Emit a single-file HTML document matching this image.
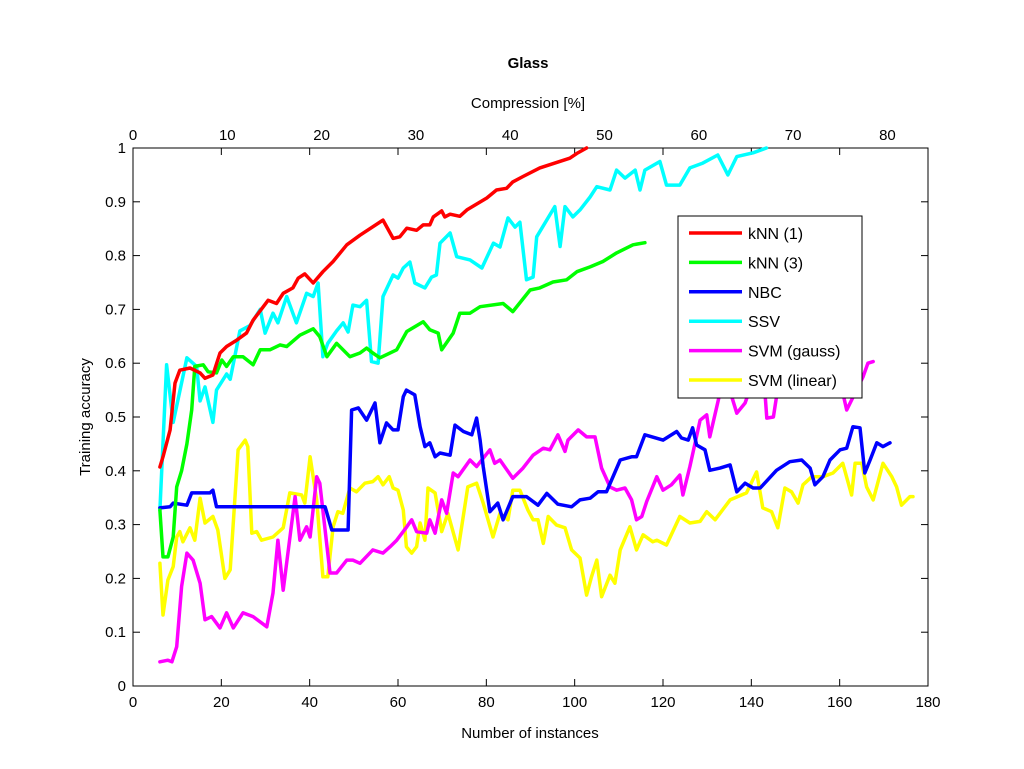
<!DOCTYPE html>
<html><head><meta charset="utf-8">
<style>
html,body{margin:0;padding:0;background:#fff;}
svg{display:block;font-family:"Liberation Sans",sans-serif;}
</style></head>
<body>
<svg id="chart" width="1024" height="769" viewBox="0 0 1024 769">
<rect x="0" y="0" width="1024" height="769" fill="#fff"/>
<text x="528" y="68" text-anchor="middle" font-size="15" font-weight="bold">Glass</text>
<text x="528" y="108" text-anchor="middle" font-size="15">Compression [%]</text>
<text x="530" y="738" text-anchor="middle" font-size="15">Number of instances</text>
<text x="90" y="417" text-anchor="middle" font-size="15" transform="rotate(-90 90 417)">Training accuracy</text>
<g id="axes"></g>
<g id="series"></g>
<g id="legend"></g>
</svg>
<script>
const xTicks=[0,20,40,60,80,100,120,140,160,180];
const yTicks=[0,0.1,0.2,0.3,0.4,0.5,0.6,0.7,0.8,0.9,1];
const yTickLabels=["0","0.1","0.2","0.3","0.4","0.5","0.6","0.7","0.8","0.9","1"];
const topTicks=[0,10,20,30,40,50,60,70,80];
const seriesNames=["kNN (1)","kNN (3)","NBC","SSV","SVM (gauss)","SVM (linear)"];
const seriesColors=["#ff0000","#00ff00","#0000ff","#00ffff","#ff00ff","#ffff00"];
const knn1=[[6.1,.407],[6.8,.426],[8.4,.476],[9.5,.563],[10.6,.587],[12.9,.591],[15.2,.582],[16.3,.572],[18.1,.578],[19.7,.619],[21.2,.631],[23.5,.643],[25.7,.656],[27.2,.68],[29.5,.705],[30.6,.717],[32.5,.711],[34,.73],[36.2,.74],[37.4,.758],[38.9,.766],[40.8,.749],[43,.77],[45.3,.789],[48.4,.82],[51.4,.838],[56.6,.866],[58.9,.832],[60.4,.835],[62,.851],[64.2,.847],[65.7,.857],[67.2,.857],[68,.872],[69.9,.883],[70.6,.872],[71.8,.877],[74,.873],[75.6,.885],[80.1,.907],[82.3,.922],[84.6,.925],[86,.937],[88.3,.947],[92.1,.963],[98.9,.981],[100.5,.99],[102.7,1.0]];
const knn3=[[6.1,.327],[6.8,.24],[7.9,.24],[9.1,.277],[9.9,.37],[11,.40],[12.2,.45],[13.3,.513],[14,.594],[15.9,.597],[17,.584],[18.9,.582],[20.1,.606],[21.2,.594],[22.7,.612],[24.9,.612],[27.2,.597],[28.8,.625],[31,.625],[33.3,.634],[34.8,.631],[37.8,.652],[40.8,.664],[42.3,.649],[43.9,.612],[46.1,.637],[49.1,.612],[51.4,.619],[52.9,.628],[54.3,.619],[55.9,.61],[59.7,.625],[62,.659],[65.7,.677],[67.2,.662],[69.1,.656],[69.9,.625],[72.5,.656],[74,.693],[76.3,.693],[78.6,.705],[83.8,.711],[86,.696],[89.9,.736],[92.1,.74],[95.1,.751],[98.2,.755],[100.5,.77],[103.5,.779],[106.4,.789],[109.5,.805],[113.2,.82],[115.9,.824]];
const nbc=[[6.1,.331],[8.4,.333],[9.1,.34],[12.2,.336],[13.3,.359],[17.4,.359],[18.1,.364],[18.9,.333],[43.5,.333],[45,.29],[48.7,.29],[49.5,.513],[51,.517],[52.9,.494],[54.8,.526],[55.9,.452],[57.4,.489],[58.9,.476],[60,.476],[61.2,.538],[61.9,.55],[63.8,.541],[65,.482],[66.1,.445],[67.2,.452],[68.4,.426],[69.5,.433],[71.8,.429],[72.9,.485],[74.8,.473],[76.7,.467],[77.8,.498],[78.6,.457],[79.3,.408],[80.8,.324],[82.6,.34],[83.8,.309],[86,.352],[89.1,.352],[91.7,.336],[93.7,.358],[96.2,.338],[99.3,.333],[101.2,.346],[103.5,.349],[105.3,.361],[107.2,.361],[110.3,.42],[112.9,.426],[114,.426],[115.9,.467],[120,.457],[123.1,.473],[124.2,.461],[125.7,.457],[126.7,.48],[127.6,.448],[129.5,.439],[130.6,.401],[132.9,.405],[135.2,.411],[136.7,.361],[138.6,.377],[140.4,.368],[142,.368],[145.7,.401],[148.7,.417],[151.4,.42],[153.3,.405],[154.4,.374],[156.2,.389],[157.8,.42],[160.1,.439],[161.6,.442],[163,.482],[164.6,.48],[165.7,.396],[166.9,.42],[168.4,.452],[169.8,.445],[171.4,.452]];
const ssv=[[6.1,.327],[7.6,.597],[9.1,.49],[12.2,.61],[14.4,.594],[15.2,.53],[16.3,.556],[18.1,.49],[18.9,.55],[21.2,.58],[22,.57],[24.2,.66],[26.5,.67],[28.8,.70],[29.9,.656],[31.7,.693],[32.8,.675],[34.8,.724],[37,.675],[39.3,.73],[40.8,.724],[41.9,.749],[43,.612],[44.1,.637],[46.1,.66],[47.6,.675],[48.7,.658],[49.8,.708],[51.4,.705],[52.9,.717],[54,.603],[55.5,.60],[56.6,.724],[58.9,.764],[60,.758],[61.2,.777],[62.7,.788],[63.8,.749],[66.1,.74],[67.6,.76],[68.7,.764],[69.5,.823],[71.8,.842],[73.3,.798],[76.3,.792],[79,.777],[81.6,.823],[83.1,.816],[84.9,.87],[86.5,.853],[87.6,.862],[89.1,.755],[90.6,.76],[91.4,.835],[95.5,.891],[96.7,.817],[97.8,.891],[99.6,.872],[101.2,.885],[103.5,.909],[105,.928],[108,.922],[109.5,.959],[111.4,.944],[113.7,.959],[114.8,.922],[115.9,.959],[119.3,.975],[120.8,.931],[123.8,.931],[126.1,.963],[129,.972],[132.4,.987],[134.7,.95],[136.7,.984],[140.4,.991],[143.4,1.0]];
const svmGauss=[[6.1,.045],[7.9,.048],[8.8,.045],[9.9,.073],[11,.185],[12.2,.247],[13.6,.234],[15.2,.191],[16.3,.123],[17.8,.129],[19.7,.108],[21.2,.136],[22.7,.108],[24.9,.136],[27.2,.129],[30.3,.11],[31.7,.173],[32.8,.271],[34,.178],[36.7,.352],[37.8,.271],[39.3,.296],[40.1,.277],[41.6,.389],[42.3,.377],[44.6,.21],[46.1,.21],[48.4,.234],[49.8,.234],[51.4,.228],[54.3,.253],[56.6,.247],[58.2,.259],[59.7,.271],[62,.296],[63.1,.309],[64.2,.287],[66.5,.284],[67.2,.309],[68.4,.284],[69.9,.346],[71,.321],[72.5,.396],[73.6,.389],[76.3,.42],[77.8,.408],[80.8,.439],[81.9,.414],[83.1,.42],[86,.386],[88.3,.405],[90.6,.429],[92.9,.442],[94.4,.439],[96.2,.467],[97.8,.436],[98.5,.457],[100.8,.476],[102.7,.463],[104.6,.463],[106.1,.405],[108,.37],[109.5,.364],[111.4,.368],[112.9,.346],[114,.309],[115.2,.315],[116.3,.343],[118.6,.389],[120,.364],[121.9,.374],[123.8,.392],[124.5,.355],[126.1,.408],[128.4,.494],[129.9,.504],[130.6,.463],[132.9,.545],[134.4,.569],[136.7,.507],[138.6,.526],[140.4,.569],[142.6,.60],[143.5,.498],[145,.50],[146.5,.58],[148.7,.538],[151,.58],[154,.56],[157,.59],[160,.57],[161.6,.513],[165.3,.575],[166.4,.60],[167.6,.603]];
const svmLinear=[[6.1,.228],[6.8,.132],[7.9,.197],[9.1,.222],[9.9,.277],[10.6,.287],[11.3,.268],[12.9,.294],[14,.271],[15.2,.349],[16.3,.303],[18.1,.315],[19.2,.29],[20.8,.2],[22,.216],[23.8,.439],[25.4,.457],[26,.445],[26.9,.284],[28,.287],[29.1,.271],[31.7,.277],[34,.294],[35.5,.359],[38.2,.355],[38.9,.34],[40.1,.426],[41.6,.346],[43,.203],[44.1,.203],[45.3,.296],[46.4,.324],[47.5,.321],[49.1,.368],[50.6,.361],[52.5,.377],[54.3,.38],[55.5,.389],[56.6,.374],[58,.389],[58.9,.368],[60,.364],[61.2,.327],[61.9,.259],[63.1,.247],[64.2,.259],[65,.303],[66.1,.271],[66.8,.368],[68.4,.359],[69.9,.287],[71.3,.321],[73.6,.253],[75.8,.37],[77.8,.377],[79.3,.34],[81.5,.277],[83.1,.321],[84.9,.309],[86,.364],[87.6,.364],[89.4,.327],[90.6,.309],[91.7,.309],[92.9,.265],[94,.315],[95.9,.299],[97.8,.294],[99.3,.253],[101.2,.238],[102.7,.169],[103.8,.203],[105,.234],[106.1,.166],[108,.206],[109.1,.191],[110.3,.253],[112.5,.296],[114,.253],[115.5,.281],[117.7,.268],[118.6,.271],[120.8,.262],[123.8,.315],[126.1,.303],[128.4,.306],[129.9,.324],[131.8,.309],[132.9,.321],[135.2,.346],[138.9,.359],[141.2,.398],[142.6,.331],[144.6,.324],[146,.294],[147.6,.368],[149.1,.361],[150.6,.34],[151.7,.374],[153.7,.389],[156.2,.389],[158.5,.396],[160.7,.414],[162.7,.355],[163.5,.414],[165,.414],[166.1,.37],[167.6,.346],[169.8,.414],[171.8,.389],[172.9,.37],[174,.336],[175.9,.352],[176.6,.352]];

const NS="http://www.w3.org/2000/svg";
const L=133,R=928,T=148,B=686;
const xMax=180, topMax=84.3;
function sx(v){return L+(R-L)*v/xMax;}
function sy(v){return B-(B-T)*v;}
function stop(v){return L+(R-L)*v/topMax;}
function mk(tag,attrs,parent){const e=document.createElementNS(NS,tag);for(const k in attrs)e.setAttribute(k,attrs[k]);parent.appendChild(e);return e;}
const axes=document.getElementById('axes');
const frame=mk('rect',{x:L,y:T,width:R-L,height:B-T,fill:'none',stroke:'#000','stroke-width':1},axes);


xTicks.forEach(v=>{
  const x=sx(v);
  const t1=mk('line',{x1:x,y1:B,x2:x,y2:B-7,stroke:'#000'},axes);
  
  
  const t2=mk('line',{x1:x,y1:T,x2:x,y2:T+7,stroke:'#000'},axes);
  
  
  const tx=mk('text',{x:x,y:B+21,'text-anchor':'middle','font-size':15},axes);
  tx.textContent=String(v);
  
  
});
topTicks.forEach(v=>{
  const x=stop(v);
  const tx=mk('text',{x:x,y:T-8,'text-anchor':'middle','font-size':15},axes);
  tx.textContent=String(v);
  
  
});
yTicks.forEach((v,i)=>{
  const y=sy(v);
  const t1=mk('line',{x1:L,y1:y,x2:L+7,y2:y,stroke:'#000'},axes);
  
  
  const t2=mk('line',{x1:R,y1:y,x2:R-7,y2:y,stroke:'#000'},axes);
  
  
  const tx=mk('text',{x:L-7,y:y+5,'text-anchor':'end','font-size':15},axes);
  tx.textContent=yTickLabels[i];
  
  
});
const seriesData=[knn1,knn3,nbc,ssv,svmGauss,svmLinear];
const sg=document.getElementById('series');
const order=[5,4,3,2,1,0];
order.forEach(i=>{
  const d=seriesData[i].map((p,j)=>(j?'L':'M')+sx(p[0]).toFixed(1)+' '+sy(p[1]).toFixed(1)).join(' ');
  const p=mk('path',{d:d,fill:'none',stroke:seriesColors[i],'stroke-width':3.5,'stroke-linejoin':'round','stroke-linecap':'round'},sg);
  
  
});
const lg=document.getElementById('legend');
const box=mk('rect',{x:678,y:216,width:184,height:182,fill:'#fff',stroke:'#000','stroke-width':1},lg);


seriesNames.forEach((n,i)=>{
  const y=233+i*29.4;
  const ln=mk('line',{x1:689,y1:y,x2:742,y2:y,stroke:seriesColors[i],'stroke-width':3.5},lg);
  
  
  const t=mk('text',{x:748,y:y+6,'font-size':16},lg);
  t.textContent=n;
  
  
});
</script>
</body></html>
